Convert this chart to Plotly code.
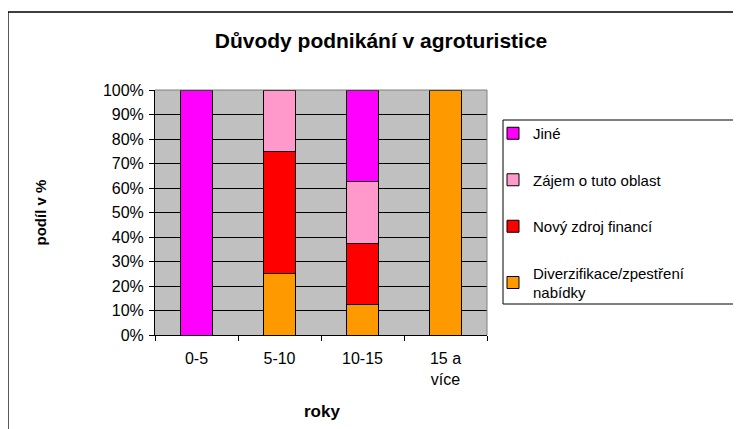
import plotly.graph_objects as go

categories = ["0-5", "5-10", "10-15", "15 a<br>více"]
series_names = ["Diverzifikace/zpestření<br>nabídky", "Nový zdroj financí", "Zájem o tuto oblast", "Jiné"]
diverzifikace = [0, 25, 12.5, 100]
novy_zdroj = [0, 50, 25, 0]
zajem = [0, 25, 25, 0]
jine = [100, 0, 37.5, 0]
colors = ["#FF9900", "#FF0000", "#FF99CC", "#FF00FF"]
y_ticks = list(range(0, 101, 10))
y_tick_labels = [f"{v}%" for v in y_ticks]

FONT = "Liberation Sans, Arial, sans-serif"

fig = go.Figure()
all_vals = [diverzifikace, novy_zdroj, zajem, jine]
for i, (name, vals) in enumerate(zip(series_names, all_vals)):
    fig.add_trace(go.Bar(
        x=categories, y=vals, name=name,
        marker=dict(color=colors[i], line=dict(color="black", width=1)),
        legendgroup=f"g{i}",
        legendrank=100 - i,
    ))

# page is offset by 8px (body margin); design coords = page coords - 8
W, H = 733, 421
L, R, T, B = 147, 479, 82, 327
pw, ph = R - L, B - T

def px(x):
    return (x - L) / pw

def py(y):
    return (B - y) / ph

fig.update_layout(
    width=W, height=H,
    margin=dict(l=L, r=W - R, t=T, b=H - B, pad=0),
    barmode="stack",
    bargap=0.62,
    paper_bgcolor="white",
    plot_bgcolor="#C0C0C0",
    font=dict(family=FONT, size=15, color="black"),
    title=dict(text="<b>Důvody podnikání v agroturistice</b>", x=373 / W, xanchor="center",
               y=1 - 33 / H, yanchor="middle", font=dict(size=21)),
    showlegend=True,
    legend=dict(
        x=px(485), xanchor="left", y=py(109), yanchor="top",
        traceorder="grouped", tracegroupgap=24,
        font=dict(size=15), bgcolor="rgba(0,0,0,0)",
    ),
    xaxis=dict(
        showline=True, linecolor="black", linewidth=1,
        ticks="outside", tickson="boundaries", ticklen=5, tickcolor="black",
        tickfont=dict(size=16), showgrid=False, ticklabelstandoff=9,
    ),
    yaxis=dict(
        range=[0, 100], tickvals=y_ticks, ticktext=y_tick_labels,
        showline=True, linecolor="black", linewidth=1,
        ticks="outside", ticklen=5, tickcolor="black",
        tickfont=dict(size=16), ticklabelstandoff=2,
        showgrid=True, gridcolor="black", gridwidth=1, zeroline=False,
    ),
    shapes=[
        dict(type="rect", xref="paper", yref="paper", x0=px(0), x1=px(760),
             y0=py(440), y1=py(4), line=dict(color="black", width=1.3), layer="below"),
        dict(type="rect", xref="paper", yref="paper", x0=px(495), x1=px(760),
             y0=py(296), y1=py(112), line=dict(color="black", width=1), layer="above"),
        dict(type="line", xref="paper", yref="paper", x0=0, x1=1, y0=1, y1=1,
             line=dict(color="#808080", width=1), layer="above"),
        dict(type="line", xref="paper", yref="paper", x0=1, x1=1, y0=0, y1=1,
             line=dict(color="#808080", width=1), layer="above"),
    ],
    annotations=[
        dict(text="<b>podíl v %</b>", xref="paper", yref="paper", x=px(32), y=0.5,
             textangle=-90, showarrow=False, font=dict(size=15), xanchor="center", yanchor="middle"),
        dict(text="<b>roky</b>", xref="paper", yref="paper", x=px(314), y=py(403),
             showarrow=False, font=dict(size=17), xanchor="center", yanchor="middle"),
    ],
)

fig.write_html("out.html")
